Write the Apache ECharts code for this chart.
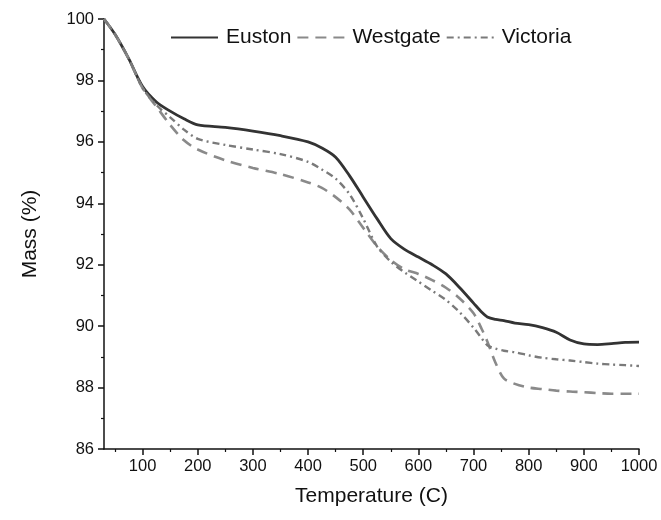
<!DOCTYPE html>
<html>
<head>
<meta charset="utf-8">
<script src="https://cdn.jsdelivr.net/npm/echarts@6/dist/echarts.min.js"></script>
<style>html,body{margin:0;padding:0;background:#fff}#c{width:661px;height:520px}</style>
</head>
<body>
<div id="c"></div>
<script>
var temperatures = [30,50,75,100,125,150,175,200,250,300,350,400,425,450,475,500,525,550,575,600,625,650,675,700,715,725,740,755,775,800,825,850,875,900,925,950,975,1000];
var euston   = [100,99.5,98.7,97.8,97.3,97.0,96.75,96.55,96.47,96.35,96.2,96.0,95.8,95.5,94.9,94.2,93.5,92.85,92.5,92.25,92.0,91.7,91.25,90.75,90.45,90.3,90.22,90.18,90.1,90.05,89.95,89.8,89.55,89.42,89.4,89.43,89.47,89.48];
var westgate = [100,99.5,98.7,97.75,97.15,96.55,96.05,95.75,95.4,95.15,94.95,94.68,94.5,94.2,93.8,93.2,92.6,92.15,91.85,91.7,91.5,91.25,90.9,90.42,89.9,89.5,88.8,88.3,88.12,88.0,87.95,87.9,87.87,87.85,87.82,87.8,87.8,87.8];
var victoria = [100,99.5,98.7,97.75,97.2,96.8,96.4,96.1,95.9,95.75,95.6,95.35,95.1,94.8,94.3,93.5,92.6,92.1,91.75,91.45,91.15,90.85,90.45,89.95,89.6,89.38,89.27,89.2,89.15,89.05,88.97,88.92,88.88,88.83,88.78,88.75,88.73,88.7];
var seriesNames = ['Euston','Westgate','Victoria'];
var xMajorTicks = [100,200,300,400,500,600,700,800,900,1000];
var xMinorTicks = [50,150,250,350,450,550,650,750,850,950];

function pairs(ys){ return temperatures.map(function(t,i){ return [t, ys[i]]; }); }

var font = 'Liberation Sans, Arial, sans-serif';
var chart = echarts.init(document.getElementById('c'), null, {renderer:'canvas'});
chart.setOption({
  animation:false,
  backgroundColor:'#fff',
  grid:{left:104, right:22, top:19, bottom:71, containLabel:false},
  legend:{
    left:170, top:27, padding:0, itemGap:5, itemWidth:47, itemHeight:14,
    itemStyle:{opacity:0},
    textStyle:{fontFamily:font, fontSize:21, color:'#111', padding:[0,0,0,3]},
    data:seriesNames
  },
  xAxis:[{
    type:'value', min:30, max:1000,
    name:'Temperature (C)', nameLocation:'middle', nameGap:37,
    nameTextStyle:{fontFamily:font, fontSize:21, color:'#111'},
    axisLine:{show:true, onZero:false, lineStyle:{color:'#111', width:1.5}},
    axisTick:{show:true, length:6, customValues:xMajorTicks, lineStyle:{color:'#111', width:1.5}},
    axisLabel:{customValues:xMajorTicks, margin:9, fontFamily:font, fontSize:16.5, color:'#111',
      formatter:function(v){ return String(v); }},
    splitLine:{show:false}
  },{
    type:'value', min:30, max:1000, position:'bottom', offset:0,
    axisLine:{show:false},
    axisTick:{show:true, length:3, customValues:xMinorTicks, lineStyle:{color:'#111', width:1.2}},
    axisLabel:{show:false},
    splitLine:{show:false}
  }],
  yAxis:{
    type:'value', min:86, max:100, interval:2,
    name:'Mass (%)', nameLocation:'middle', nameGap:63,
    nameTextStyle:{fontFamily:font, fontSize:21, color:'#111'},
    axisLine:{show:true, onZero:false, lineStyle:{color:'#111', width:1.5}},
    axisTick:{show:true, length:6, lineStyle:{color:'#111', width:1.5}},
    minorTick:{show:true, splitNumber:2, length:3, lineStyle:{color:'#111', width:1.2}},
    axisLabel:{margin:10, fontFamily:font, fontSize:16.5, color:'#111'},
    splitLine:{show:false}, minorSplitLine:{show:false}
  },
  series:[{
    name:seriesNames[0], type:'line', data:pairs(euston), smooth:0.3, symbol:'none',
    lineStyle:{color:'#333', width:2.8}, itemStyle:{color:'#333'}
  },{
    name:seriesNames[1], type:'line', data:pairs(westgate), smooth:0.3, symbol:'none',
    lineStyle:{color:'#8a8a8a', width:2.6, type:[11,7]}, itemStyle:{color:'#8a8a8a'}
  },{
    name:seriesNames[2], type:'line', data:pairs(victoria), smooth:0.3, symbol:'none',
    lineStyle:{color:'#7a7a7a', width:2.4, type:[7,4,2,4]}, itemStyle:{color:'#7a7a7a'}
  }]
});
</script>
</body>
</html>
